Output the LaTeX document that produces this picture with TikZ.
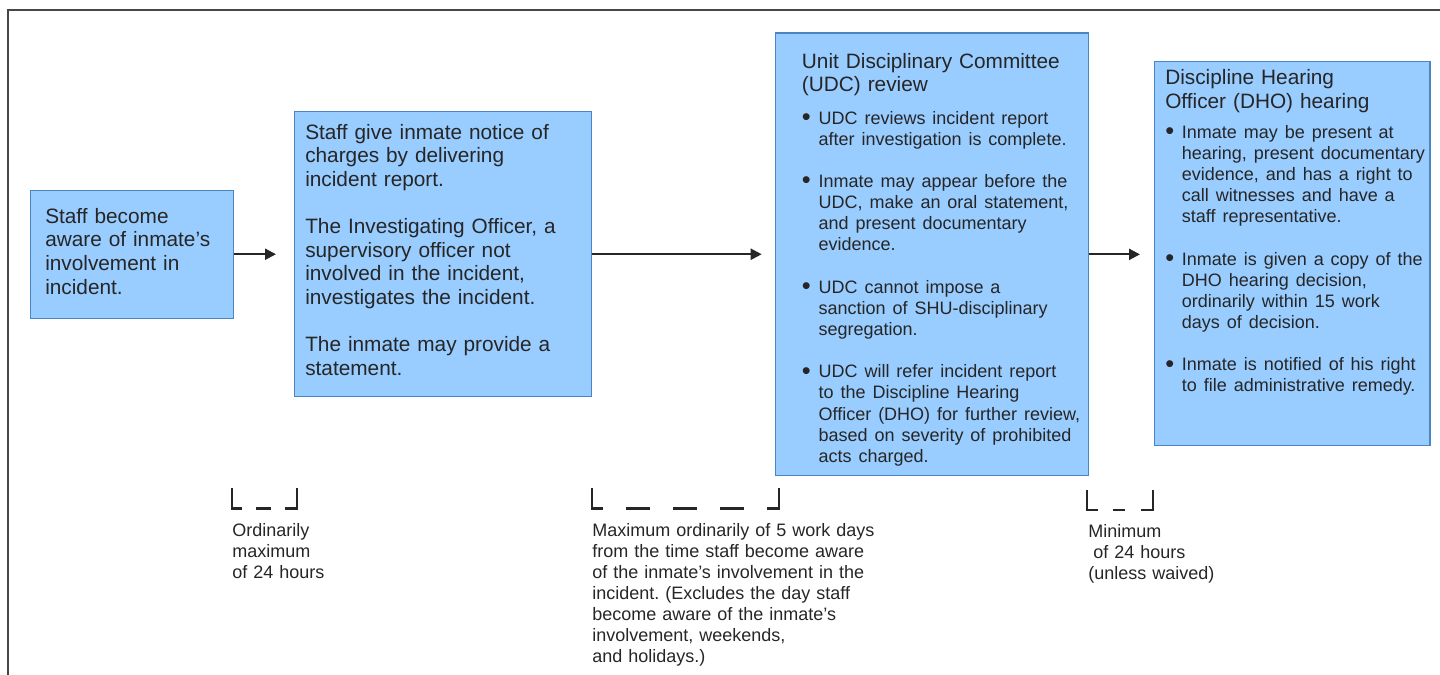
\documentclass[tikz,border=0pt]{standalone}
\usepackage{fontspec}
\setmainfont{Liberation Sans}
\usetikzlibrary{arrows.meta}
\frenchspacing
\definecolor{boxfill}{HTML}{99CCFF}
\definecolor{boxline}{HTML}{4A86C4}
\definecolor{ink}{HTML}{262626}
\newcommand{\bfnt}{\fontsize{13.5}{15.8}\selectfont}
\newcommand{\bdot}{{\fontsize{19}{19}\selectfont\raisebox{-0.9pt}{\textbullet}}}
\newcommand{\bpoint}{\par\hangindent=12.5pt\hangafter=1\noindent\hbox to 12.5pt{\bdot\hss}}
\newcommand{\bgap}{\par\vskip16pt}
\begin{document}
\begin{tikzpicture}[x=0.75pt,y=0.75pt,yscale=-1,xscale=1,
    stage/.style={draw=boxline,fill=boxfill,line width=1.1pt,anchor=north west,inner sep=0pt},
    blurb/.style={anchor=base west,inner sep=0pt,text width=225pt,align=left,text=ink,font=\fontsize{15.6}{17.7}\selectfont},
    limit/.style={anchor=base west,inner sep=0pt,text width=225pt,align=left,text=ink,font=\bfnt},
    flow/.style={draw=ink,line width=1.6pt,-{Triangle[length=8.25pt,width=8.25pt]}},
    tick/.style={draw=ink,line width=1.6pt}]
    \useasboundingbox (0,0) rectangle (1440,675);
    % Frame
    \draw [draw=ink!85,line width=1.2pt] (1440,10) -- (8,10) -- (8,675);
    % Text Node
    \node [stage,minimum width=152.25pt,minimum height=96pt] (aware) at (30,189.5) {};
    \node [blurb] (awaretxt) at (45,223.3) {Staff become\\aware of inmate’s\\involvement in\\incident.};
    % Text Node
    \node [stage,minimum width=222.75pt,minimum height=213.75pt] (notice) at (294,111) {};
    \node [blurb] (noticetxt) at (305,139.3) {Staff give inmate notice of\\charges by delivering\\incident report.\\[17.7pt]The Investigating Officer, a\\supervisory officer not\\involved in the incident,\\investigates the incident.\\[17.7pt]The inmate may provide a\\statement.};
    % Text Node
    \node [stage,minimum width=234.75pt,minimum height=332pt] (udc) at (774.7,32.3) {};
    \node [blurb] (udctxt) at (801.7,68.3) {Unit Disciplinary Committee\\(UDC) review\par\bfnt\vskip8.5pt
        \bpoint UDC reviews incident report\newline after investigation is complete.\bgap
        \bpoint Inmate may appear before the\newline UDC, make an oral statement,\newline and present documentary\newline evidence.\bgap
        \bpoint UDC cannot impose a\newline sanction of SHU-disciplinary\newline segregation.\bgap
        \bpoint UDC will refer incident report\newline to the Discipline Hearing\newline Officer (DHO) for further review,\newline based on severity of prohibited\newline acts charged.\par};
    % Text Node
    \node [stage,minimum width=206.5pt,minimum height=288pt] (dho) at (1154,61) {};
    \node [blurb] (dhotxt) at (1165,84.5) {Discipline Hearing\\Officer (DHO) hearing\par\bfnt\vskip7.1pt
        \bpoint Inmate may be present at\newline hearing, present documentary\newline evidence, and has a right to\newline call witnesses and have a\newline staff representative.\bgap
        \bpoint Inmate is given a copy of the\newline DHO hearing decision,\newline ordinarily within 15 work\newline days of decision.\bgap
        \bpoint Inmate is notified of his right\newline to file administrative remedy.\par};
    % Connection
    \draw [flow,shorten >=13.5pt] (aware.east) -- (aware.east -| notice.west);
    \draw [flow,shorten >=9.75pt] (notice.east) -- (notice.east -| udc.west);
    \draw [flow,shorten >=10.5pt] (udc.east) -- (udc.east -| dho.west);
    % Time Limits
    \draw [tick] (232,488) |- (242,508.5);
    \draw [tick] (256,508.5) -- (270.5,508.5);
    \draw [tick] (284.5,508.5) -| (297,488);
    \node [limit] (lim24) at (232,536) {Ordinarily\\maximum\\of 24 hours};
    \draw [tick] (592.3,488) |- (602.7,508.5);
    \draw [tick] (626,508.5) -- (650,508.5);
    \draw [tick] (673.3,508.5) -- (696.7,508.5);
    \draw [tick] (720,508.5) -- (744,508.5);
    \draw [tick] (767.3,508.5) -| (779,488);
    \node [limit] (lim5days) at (592,536) {Maximum ordinarily of 5 work days\\from the time staff become aware\\of the inmate’s involvement in the\\incident. (Excludes the day staff\\become aware of the inmate’s\\involvement, weekends,\\and holidays.)};
    \draw [tick] (1087,490) |- (1098,510);
    \draw [tick] (1113,510) -- (1125,510);
    \draw [tick] (1141,510) -| (1152.7,490);
    \node [limit] (min24) at (1088,537) {Minimum\\\hspace*{3.75pt}of 24 hours\\(unless waived)};
\end{tikzpicture}
\end{document}
